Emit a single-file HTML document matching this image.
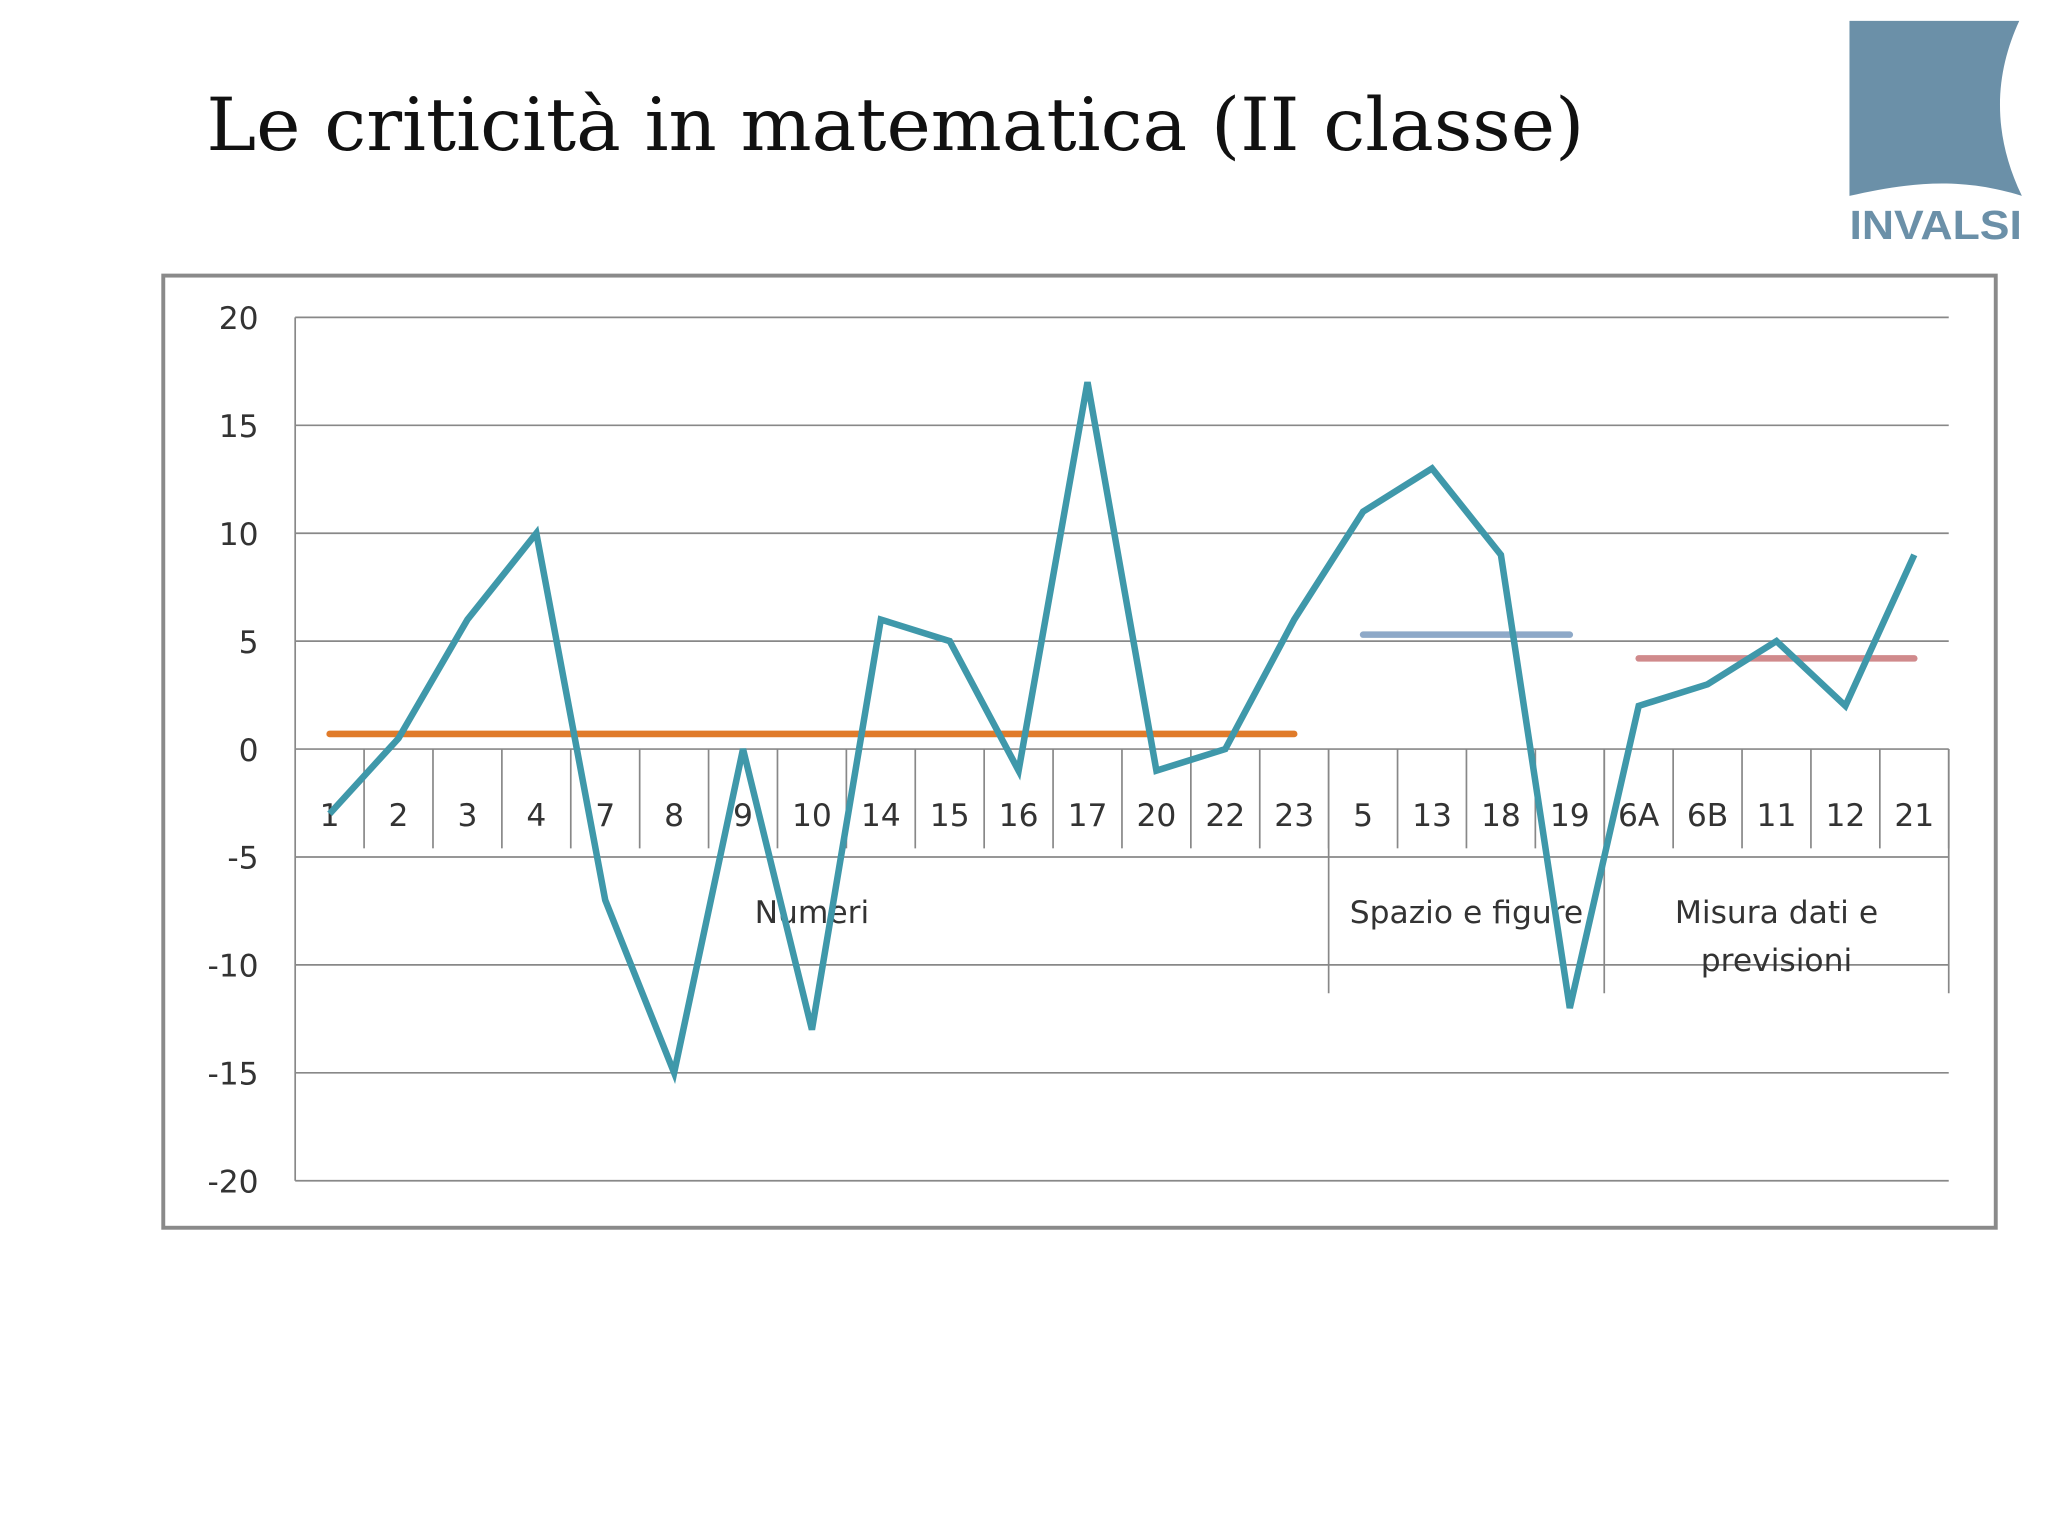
<!DOCTYPE html>
<html><head><meta charset="utf-8"><style>
html,body{margin:0;padding:0;background:#fff;}
svg{display:block;}
</style></head><body>
<svg id="chart" width="2048" height="1536" viewBox="0 0 1568 1176" xmlns="http://www.w3.org/2000/svg">
<rect width="1568" height="1176" fill="#fff"/>
<text x="158" y="115" font-family="DejaVu Serif, Liberation Serif, serif" font-size="56" fill="#111" textLength="1055" lengthAdjust="spacingAndGlyphs">Le criticità in matematica (II classe)</text>
<g>
<path d="M1416 16 L1546 16 C1528 55 1524 100 1548 150 C1500 135 1460 140 1416 150 Z" fill="#6b90a8"/>
<text x="1416" y="183" font-family="Liberation Sans, sans-serif" font-weight="bold" font-size="31" fill="#6b90a8" textLength="132" lengthAdjust="spacingAndGlyphs">INVALSI</text>
</g>
<rect x="125" y="211" width="1403" height="729" fill="#fff" stroke="#8a8a8a" stroke-width="3"/>
<g id="grid"></g><g id="axis"></g><g id="marks"></g>
</svg>
<script>
const categories=["1","2","3","4","7","8","9","10","14","15","16","17","20","22","23","5","13","18","19","6A","6B","11","12","21"];
const values=[-3,0.5,6,10,-7,-15,0,-13,6,5,-1,17,-1,0,6,11,13,9,-12,2,3,5,2,9];
const groupNames=["Numeri","Spazio e figure","Misura dati e|previsioni"];
const groupSizes=[15,4,5];
const groupAverages=[0.7,5.3,4.2];
const groupColors=["#e07b2a","#8ea9c8","#d08a8c"];
const yTicks=[20,15,10,5,0,-5,-10,-15,-20];
const NS="http://www.w3.org/2000/svg";
const L=226,R=1492,T=243,B=904,yMin=-20,yMax=20;
const step=(R-L)/categories.length;
function y(v){return B-(v-yMin)/(yMax-yMin)*(B-T);}
function x(i){return L+step*(i+0.5);}
function mk(tag,attrs,parent,txt){const e=document.createElementNS(NS,tag);for(const k in attrs)e.setAttribute(k,attrs[k]);if(txt!==undefined)e.textContent=txt;document.getElementById(parent).appendChild(e);return e;}
const F="DejaVu Sans, Liberation Sans, sans-serif";
yTicks.forEach(t=>{
 const g=mk('line',{x1:L,x2:R,y1:y(t),y2:y(t),stroke:'#888','stroke-width':1.3},'grid');
 
 
 const tx=mk('text',{x:198,y:y(t)+9,'text-anchor':'end','font-family':F,'font-size':24,fill:'#333'},'axis',t);
 
 
});
const va=mk('line',{x1:L,x2:L,y1:T,y2:B,stroke:'#888','stroke-width':1.3},'axis');


const y0=y(0),rowB=y0+76,grpB=y0+187;
categories.forEach((c,i)=>{
 const ln=mk('line',{x1:L+step*(i+1),x2:L+step*(i+1),y1:y0,y2:rowB,stroke:'#888','stroke-width':1.3},'axis');
 
 
 const t=mk('text',{x:x(i),y:y0+59,'text-anchor':'middle','font-family':F,'font-size':24,fill:'#333'},'axis',c);
 
 
});
let start=0;
groupSizes.forEach((n,g)=>{
 const xs=L+step*start,xe=L+step*(start+n);
 const d=mk('line',{x1:xe,x2:xe,y1:y0,y2:grpB,stroke:'#888','stroke-width':1.3},'axis');
 
 
 groupNames[g].split('|').forEach((s,k)=>{
  const t=mk('text',{x:(xs+xe)/2,y:y0+133+k*37,'text-anchor':'middle','font-family':F,'font-size':24,fill:'#333'},'axis',s);
  
  
 });
 const a=mk('line',{x1:x(start),x2:x(start+n-1),y1:y(groupAverages[g]),y2:y(groupAverages[g]),stroke:groupColors[g],'stroke-width':5,'stroke-linecap':'round'},'marks');
 
 
 start+=n;
});
const p=mk('polyline',{points:values.map((v,i)=>x(i)+','+y(v)).join(' '),fill:'none',stroke:'#3f98aa','stroke-width':5,'stroke-linejoin':'miter'},'marks');


</script>
</body></html>
